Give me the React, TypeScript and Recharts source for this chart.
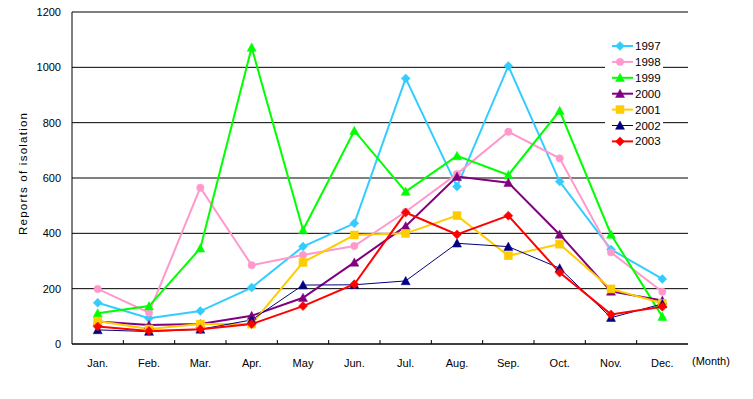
import React from 'react';
import { LineChart, Line, XAxis, YAxis, CartesianGrid, Legend } from 'recharts';

const months = ['Jan.', 'Feb.', 'Mar.', 'Apr.', 'May', 'Jun.', 'Jul.', 'Aug.', 'Sep.', 'Oct.', 'Nov.', 'Dec.'];
const y1997 = [149, 93, 119, 204, 352, 436, 960, 569, 1005, 587, 342, 235];
const y1998 = [199, 113, 565, 285, 322, 354, 478, 615, 767, 671, 331, 189];
const y1999 = [111, 137, 346, 1072, 412, 771, 551, 680, 611, 843, 396, 99];
const y2000 = [81, 69, 72, 102, 167, 295, 426, 605, 583, 396, 190, 157];
const y2001 = [83, 54, 72, 72, 295, 394, 400, 464, 319, 361, 199, 147];
const y2002 = [51, 45, 53, 87, 213, 214, 228, 364, 352, 274, 95, 145];
const y2003 = [63, 47, 53, 72, 137, 216, 475, 396, 464, 258, 107, 135];
const yTicks = [0, 200, 400, 600, 800, 1000, 1200];

type Shape = 'diamond' | 'circle' | 'triangle' | 'square';
const series: { name: string; values: number[]; color: string; shape: Shape; width: number }[] = [
  { name: '1997', values: y1997, color: '#33CCFF', shape: 'diamond', width: 2 },
  { name: '1998', values: y1998, color: '#FF99CC', shape: 'circle', width: 2 },
  { name: '1999', values: y1999, color: '#00FF00', shape: 'triangle', width: 2 },
  { name: '2000', values: y2000, color: '#800080', shape: 'triangle', width: 2 },
  { name: '2001', values: y2001, color: '#FFCC00', shape: 'square', width: 2 },
  { name: '2002', values: y2002, color: '#000080', shape: 'triangle', width: 1 },
  { name: '2003', values: y2003, color: '#FF0000', shape: 'diamond', width: 2 },
];

const data = months.map((m, i) => {
  const row: Record<string, string | number> = { month: m };
  series.forEach((s) => {
    row[s.name] = s.values[i];
  });
  return row;
});

const FONT = '"Liberation Sans", Arial, sans-serif';
const X_TICK_MARGIN = 15;

function marker(cx: number, cy: number, shape: Shape, color: string, key?: string | number) {
  switch (shape) {
    case 'diamond':
      return (
        <polygon key={key} points={`${cx},${cy - 4.5} ${cx + 4.5},${cy} ${cx},${cy + 4.5} ${cx - 4.5},${cy}`} fill={color} stroke={color} strokeWidth={0.5} />
      );
    case 'circle':
      return <circle key={key} cx={cx} cy={cy} r={3.7} fill={color} stroke={color} strokeWidth={0.5} />;
    case 'triangle':
      return (
        <polygon key={key} points={`${cx},${cy - 4.5} ${cx + 4.5},${cy + 3.8} ${cx - 4.5},${cy + 3.8}`} fill={color} stroke={color} strokeWidth={0.5} />
      );
    case 'square':
    default:
      return <rect key={key} x={cx - 4} y={cy - 4} width={8} height={8} fill={color} stroke={color} strokeWidth={0.5} />;
  }
}

const LegendBox = () => (
  <svg width={58} height={112} style={{ display: 'block', background: '#fff' }}>
    {series.map((s, i) => {
      const y = 8 + i * 15.9;
      return (
        <g key={s.name}>
          <line x1={7} x2={28} y1={y} y2={y} stroke={s.color} strokeWidth={s.width === 1 ? 1 : 2} />
          {marker(15, y, s.shape, s.color)}
          <text x={30} y={y} dominantBaseline="central" fontSize={11.5} fontFamily={FONT} fill="#000">
            {s.name}
          </text>
        </g>
      );
    })}
  </svg>
);

const YLabel = (props: any) => {
  const vb = props.viewBox || { x: 0, y: 12, width: 72, height: 332 };
  const cx = vb.x + 23;
  const cy = vb.y + vb.height / 2 - 4;
  return (
    <text
      x={cx}
      y={cy}
      transform={`rotate(-90, ${cx}, ${cy})`}
      textAnchor="middle"
      dominantBaseline="central"
      fontSize={11.5}
      fontFamily={FONT}
      fill="#000"
      textLength={122}
      lengthAdjust="spacing"
    >
      Reports of isolation
    </text>
  );
};

const XLabel = (props: any) => {
  const vb = props.viewBox || { x: 72, y: 344, width: 616, height: 30 };
  return (
    <text x={vb.x + vb.width + 4} y={vb.y + 17} dominantBaseline="central" fontSize={11} fontFamily={FONT} fill="#000">
      (Month)
    </text>
  );
};

const MonthTick = (props: any) => {
  const { x, y, payload } = props;
  const axisY = y - X_TICK_MARGIN;
  const off = payload && typeof payload.offset === 'number' ? payload.offset : 0;
  const bx = x - off;
  return (
    <g>
      {payload.index > 0 && off > 0 && <line x1={bx} x2={bx} y1={axisY - 4} y2={axisY} stroke="#000" strokeWidth={1} />}
      <text x={x} y={y} dy="0.71em" textAnchor="middle" fontSize={11} fontFamily={FONT} fill="#000">
        {payload.value}
      </text>
    </g>
  );
};

export default function App() {
  return (
    <div style={{ width: 753, height: 399, position: 'relative', margin: -8, fontFamily: FONT }}>
      <LineChart width={753} height={399} data={data} margin={{ top: 12, right: 65, bottom: 25, left: 0 }}>
        <CartesianGrid vertical={false} horizontal stroke="#000" strokeWidth={1} />
        <XAxis
          dataKey="month"
          scale="band"
          height={30}
          interval={0}
          tickLine={false}
          tickSize={0}
          tickMargin={X_TICK_MARGIN}
          axisLine={{ stroke: '#000' }}
          tick={MonthTick}
          label={XLabel}
        />
        <YAxis
          width={72}
          domain={[0, 1200]}
          ticks={yTicks}
          interval={0}
          tickLine={false}
          tickSize={0}
          tickMargin={11}
          axisLine={{ stroke: '#000' }}
          tick={{ fill: '#000', fontSize: 11, fontFamily: FONT }}
          label={YLabel}
        />
        <YAxis yAxisId="r" orientation="right" width={0} domain={[0, 1200]} tick={false} tickLine={false} axisLine={{ stroke: '#000' }} />
        <Legend
          layout="horizontal"
          verticalAlign="middle"
          align="center"
          content={() => <LegendBox />}
          wrapperStyle={{ position: 'absolute', left: 605, top: 38, width: 58, height: 112, background: '#fff' }}
        />
        {series.map((s) => (
          <Line
            key={s.name}
            type="linear"
            dataKey={s.name}
            stroke={s.color}
            strokeWidth={s.width}
            isAnimationActive={false}
            activeDot={false}
            dot={(p: any) => marker(p.cx, p.cy, s.shape, s.color, `${s.name}-${p.index}`)}
          />
        ))}
      </LineChart>
    </div>
  );
}
